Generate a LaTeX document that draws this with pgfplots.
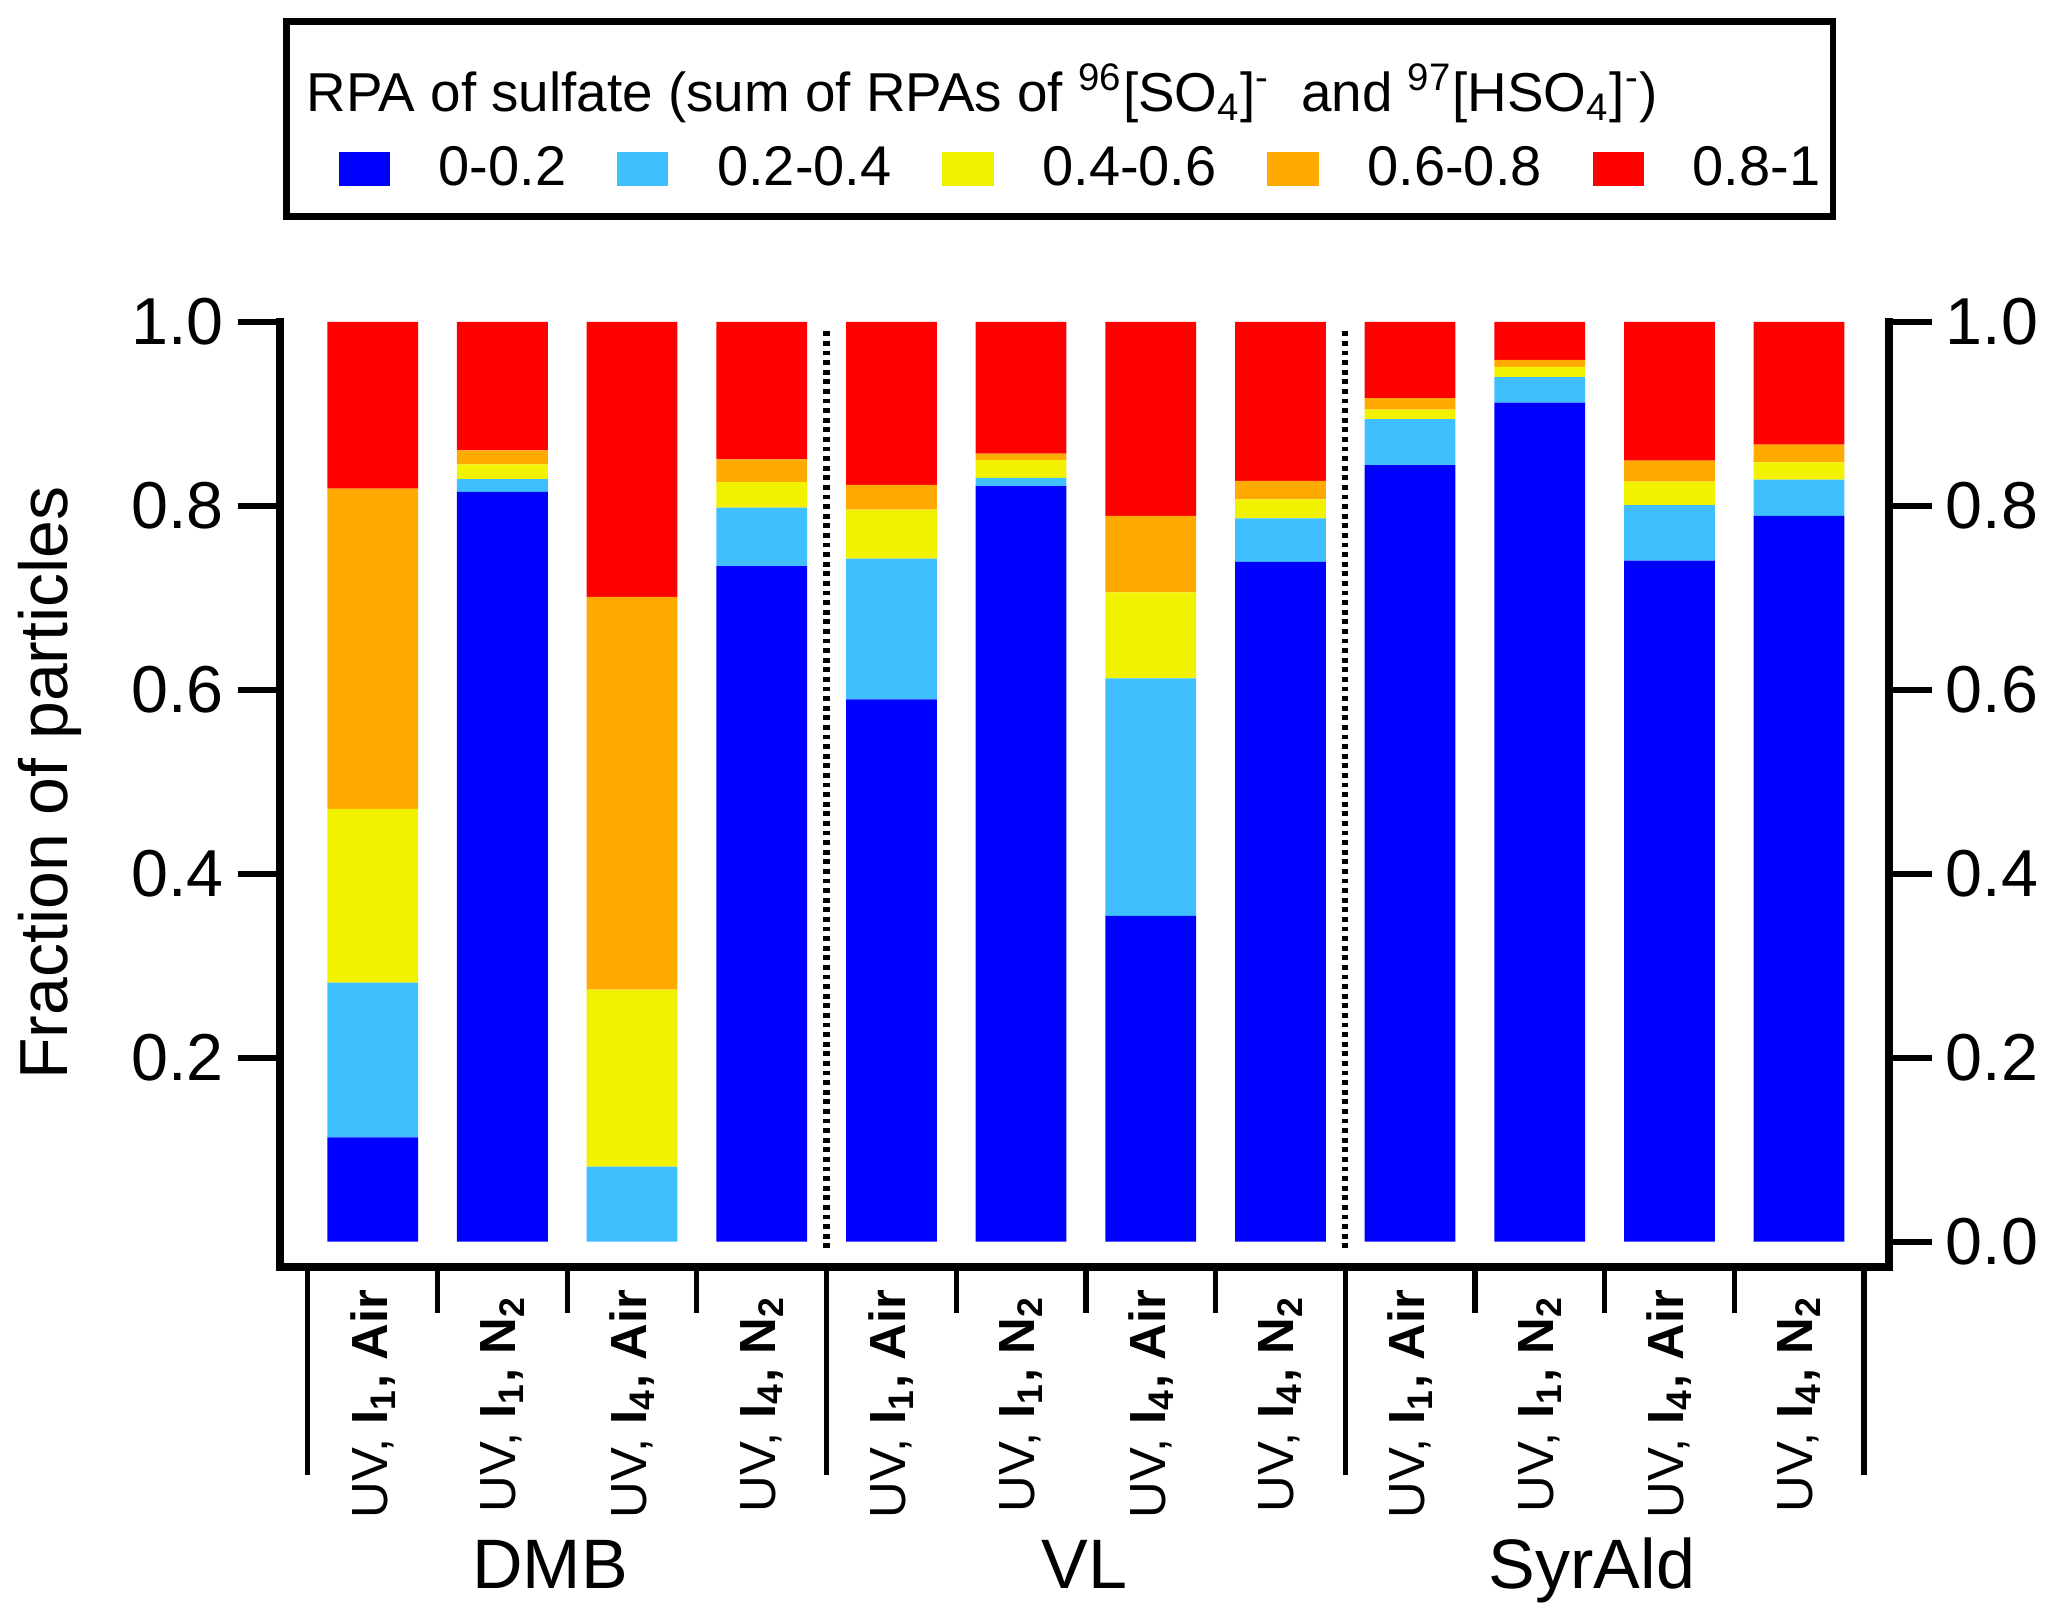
\documentclass[border=0pt]{standalone}
\usepackage{pgfplots}
\pgfplotsset{compat=1.18}
\usepackage{fontspec}
\setmainfont{Liberation Sans}
\definecolor{cA}{RGB}{0,0,255}
\definecolor{cB}{RGB}{64,191,255}
\definecolor{cC}{RGB}{242,242,0}
\definecolor{cD}{RGB}{255,170,0}
\definecolor{cE}{RGB}{255,0,0}
\pgfplotsset{
  mylegend/.style={legend image code/.code={\fill[##1,/tikz/.cd,draw=none] (0pt,-4.3pt) rectangle (12.8pt,4.3pt);}},
  common/.style={
    at={(70pt,88.25pt)}, anchor=south west,
    scale only axis, width=402.3pt, height=236.3pt,
    xmin=-0.715, xmax=11.695, ymin=-0.0275, ymax=1,
    tick align=outside,
    major tick length=10.6pt,
    tick style={line width=1.6pt, black},
    axis line style={line width=1.9pt, -, line cap=rect},
    /pgf/number format/assume math mode=true,
    yticklabel style={font=\fontsize{16.6}{20}\selectfont,
      /pgf/number format/.cd, fixed, fixed zerofill, precision=1},
  }
}
\begin{document}
\begin{tikzpicture}[x=1pt,y=1pt]
\useasboundingbox (0,0) rectangle (516.75,405);
\begin{axis}[common,
  ybar stacked, bar width=0.70,
  axis x line*=bottom, axis y line*=left,
  ytick={0.2,0.4,0.6,0.8,1.0},
  xtick={0,...,11},
  major x tick style={draw=none},
  minor xtick={-0.5,0.5,...,11.5},
  minor tick length=11.5pt,
  minor x tick style={line width=1.3pt, black},
  xticklabels={
    {UV, \textbf{I\textsubscript{1}, Air}},
    {UV, \textbf{I\textsubscript{1}, N\textsubscript{2}}},
    {UV, \textbf{I\textsubscript{4}, Air}},
    {UV, \textbf{I\textsubscript{4}, N\textsubscript{2}}},
    {UV, \textbf{I\textsubscript{1}, Air}},
    {UV, \textbf{I\textsubscript{1}, N\textsubscript{2}}},
    {UV, \textbf{I\textsubscript{4}, Air}},
    {UV, \textbf{I\textsubscript{4}, N\textsubscript{2}}},
    {UV, \textbf{I\textsubscript{1}, Air}},
    {UV, \textbf{I\textsubscript{1}, N\textsubscript{2}}},
    {UV, \textbf{I\textsubscript{4}, Air}},
    {UV, \textbf{I\textsubscript{4}, N\textsubscript{2}}}},
  xticklabel style={yshift=-23.7pt, rotate=90, anchor=center, font=\fontsize{12.7}{15}\selectfont},
  ylabel={Fraction of particles},
  every axis y label/.style={at={(axis description cs:-0.143,0.512)}, rotate=90, anchor=center, font=\fontsize{17}{20}\selectfont},
  legend columns=5,
  legend style={at={(axis description cs:0.0365,1.1614)}, anchor=west, draw=none, fill=none,
    inner sep=0pt, outer sep=0pt, font=\fontsize{14}{16}\selectfont,
    nodes={inner sep=0pt},
    /tikz/every odd column/.append style={column sep=12.2pt},
    /tikz/every even column/.append style={column sep=12.7pt}},
  clip=false,
]
\addplot[fill=cA, draw=none, mylegend] coordinates {(0,0.1135) (1,0.8152) (2,0) (3,0.7343) (4,0.5896) (5,0.8215) (6,0.3543) (7,0.7391) (8,0.8443) (9,0.9121) (10,0.7405) (11,0.7889)};
\addplot[fill=cB, draw=none, mylegend] coordinates {(0,0.1682) (1,0.0139) (2,0.0817) (3,0.0637) (4,0.1530) (5,0.0089) (6,0.2582) (7,0.0471) (8,0.0498) (9,0.0277) (10,0.0602) (11,0.0395)};
\addplot[fill=cC, draw=none, mylegend] coordinates {(0,0.1889) (1,0.0159) (2,0.1923) (3,0.0276) (4,0.0532) (5,0.0194) (6,0.0934) (7,0.0208) (8,0.0104) (9,0.0111) (10,0.0256) (11,0.0187)};
\addplot[fill=cD, draw=none, mylegend] coordinates {(0,0.3481) (1,0.0152) (2,0.4270) (3,0.0249) (4,0.0270) (5,0.0069) (6,0.0831) (7,0.0200) (8,0.0125) (9,0.0076) (10,0.0228) (11,0.0193)};
\addplot[fill=cE, draw=none, mylegend] coordinates {(0,0.1813) (1,0.1398) (2,0.2990) (3,0.1495) (4,0.1772) (5,0.1433) (6,0.2110) (7,0.1730) (8,0.0830) (9,0.0415) (10,0.1509) (11,0.1336)};
\legend{0-0.2, 0.2-0.4, 0.4-0.6, 0.6-0.8, 0.8-1}
\draw[line width=1.6pt, dash pattern=on 1.2pt off 1.2pt] (axis cs:3.5,-0.007) -- (axis cs:3.5,0.994);
\draw[line width=1.6pt, dash pattern=on 1.2pt off 1.2pt] (axis cs:7.5,-0.007) -- (axis cs:7.5,0.994);
\draw[line width=1.3pt] (axis cs:-0.5,-0.0275) -- ++(0pt,-52pt);
\draw[line width=1.3pt] (axis cs:3.5,-0.0275) -- ++(0pt,-52pt);
\draw[line width=1.3pt] (axis cs:7.5,-0.0275) -- ++(0pt,-52pt);
\draw[line width=1.3pt] (axis cs:11.5,-0.0275) -- ++(0pt,-52pt);
\end{axis}
\begin{axis}[common,
  axis y line*=right, axis x line=none,
  ytick={0,0.2,0.4,0.6,0.8,1.0},
]
\addplot[draw=none] coordinates {(0,0) (1,1)};
\end{axis}
\draw[line width=1.67pt] (71.7,399.6) rectangle (458.25,350.8);
\node[anchor=base west, inner sep=0pt, font=\fontsize{13.7}{16}\selectfont] at (76.5,377.1)
  {RPA of sulfate (sum of RPAs of \textsuperscript{96}[SO\textsubscript{4}]\textsuperscript{-}\ \ and \textsuperscript{97}[HSO\textsubscript{4}]\textsuperscript{-})};
\node[anchor=base, inner sep=0pt, font=\fontsize{17.5}{20}\selectfont] at (137.5,8.0) {DMB};
\node[anchor=base, inner sep=0pt, font=\fontsize{17.5}{20}\selectfont] at (271.1,8.0) {VL};
\node[anchor=base, inner sep=0pt, font=\fontsize{17.5}{20}\selectfont] at (398.0,8.0) {SyrAld};
\end{tikzpicture}
\end{document}
